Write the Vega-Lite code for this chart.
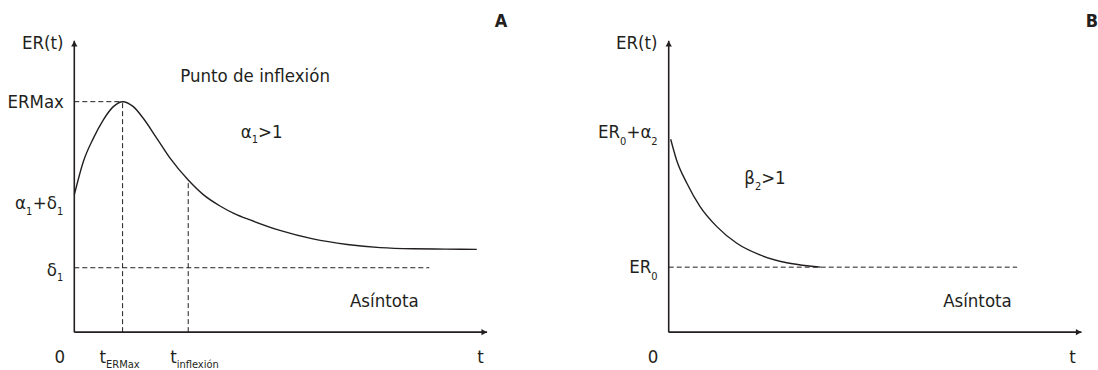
{
  "$schema": "https://vega.github.io/schema/vega-lite/v6.json",
  "usermeta": {"embedOptions": {"actions": false}},
  "padding": 0,
  "spacing": 0,
  "bounds": "flush",
  "config": {
    "view": {"stroke": null},
    "text": {"font": "'Liberation Sans Narrow', 'DejaVu Sans Condensed', 'Open Sans', sans-serif", "fontSize": 18.5, "color": "#231f20", "baseline": "middle"}
  },
  "datasets": {
    "curves": [
      {"panel": "A", "x": 0, "y": 4.71},
      {"panel": "A", "x": 0.218, "y": 5.85},
      {"panel": "A", "x": 0.46, "y": 6.65},
      {"panel": "A", "x": 0.7, "y": 7.28},
      {"panel": "A", "x": 0.945, "y": 7.74},
      {"panel": "A", "x": 1.17, "y": 7.91},
      {"panel": "A", "x": 1.43, "y": 7.74},
      {"panel": "A", "x": 1.67, "y": 7.34},
      {"panel": "A", "x": 2.0, "y": 6.65},
      {"panel": "A", "x": 2.32, "y": 5.97},
      {"panel": "A", "x": 2.76, "y": 5.22},
      {"panel": "A", "x": 3.125, "y": 4.72},
      {"panel": "A", "x": 3.53, "y": 4.33},
      {"panel": "A", "x": 3.89, "y": 4.06},
      {"panel": "A", "x": 4.26, "y": 3.85},
      {"panel": "A", "x": 4.98, "y": 3.49},
      {"panel": "A", "x": 5.78, "y": 3.2},
      {"panel": "A", "x": 6.61, "y": 3.01},
      {"panel": "A", "x": 7.41, "y": 2.9},
      {"panel": "A", "x": 8.205, "y": 2.86},
      {"panel": "A", "x": 9.0, "y": 2.85},
      {"panel": "A", "x": 9.75, "y": 2.84},
      {"panel": "B", "x": 0.048, "y": 6.62},
      {"panel": "B", "x": 0.19, "y": 5.91},
      {"panel": "B", "x": 0.44, "y": 5.11},
      {"panel": "B", "x": 0.76, "y": 4.31},
      {"panel": "B", "x": 1.16, "y": 3.63},
      {"panel": "B", "x": 1.65, "y": 3.05},
      {"panel": "B", "x": 2.21, "y": 2.65},
      {"panel": "B", "x": 2.86, "y": 2.38},
      {"panel": "B", "x": 3.585, "y": 2.245},
      {"panel": "B", "x": 3.68, "y": 2.23}
    ],
    "segments": [
      {"panel": "A", "kind": "axis", "x": 0, "y": 0, "x2": 10, "y2": 0},
      {"panel": "A", "kind": "axis", "x": 0, "y": 0, "x2": 0, "y2": 10},
      {"panel": "A", "kind": "dash", "x": 0, "y": 7.91, "x2": 1.17, "y2": 7.91},
      {"panel": "A", "kind": "dash", "x": 1.17, "y": 0, "x2": 1.17, "y2": 7.91},
      {"panel": "A", "kind": "dash", "x": 2.76, "y": 0, "x2": 2.76, "y2": 5.22},
      {"panel": "A", "kind": "dash", "x": 0, "y": 2.21, "x2": 8.6, "y2": 2.21},
      {"panel": "B", "kind": "axis", "x": 0, "y": 0, "x2": 10, "y2": 0},
      {"panel": "B", "kind": "axis", "x": 0, "y": 0, "x2": 0, "y2": 10},
      {"panel": "B", "kind": "dash", "x": 0, "y": 2.23, "x2": 8.44, "y2": 2.23}
    ],
    "arrows": [
      {"panel": "A", "x": 9.93, "y": 0, "shape": "triangle-right"},
      {"panel": "A", "x": 0, "y": 9.9, "shape": "triangle-up"},
      {"panel": "B", "x": 9.93, "y": 0, "shape": "triangle-right"},
      {"panel": "B", "x": 0, "y": 9.9, "shape": "triangle-up"}
    ],
    "texts": [
      {"panel": "A", "x": -0.26, "y": 9.92, "label": "ER(t)", "role": "mainR"},
      {"panel": "A", "x": -0.25, "y": 7.9, "label": "ERMax", "role": "mainR"},
      {"panel": "A", "x": -1.17, "y": 4.43, "label": "α", "role": "mainR"},
      {"panel": "A", "x": -1.17, "y": 4.12, "label": "1", "role": "sub"},
      {"panel": "A", "x": -0.42, "y": 4.43, "label": "+δ", "role": "mainR"},
      {"panel": "A", "x": -0.42, "y": 4.12, "label": "1", "role": "sub"},
      {"panel": "A", "x": -0.42, "y": 2.13, "label": "δ", "role": "mainR"},
      {"panel": "A", "x": -0.42, "y": 1.85, "label": "1", "role": "sub"},
      {"panel": "A", "x": -0.35, "y": -0.85, "label": "0", "role": "mainC"},
      {"panel": "A", "x": 0.77, "y": -0.85, "label": "t", "role": "mainR"},
      {"panel": "A", "x": 0.77, "y": -1.12, "label": "ERMax", "role": "sub"},
      {"panel": "A", "x": 2.48, "y": -0.85, "label": "t", "role": "mainR"},
      {"panel": "A", "x": 2.48, "y": -1.12, "label": "inflexión", "role": "sub"},
      {"panel": "A", "x": 9.84, "y": -0.85, "label": "t", "role": "mainC"},
      {"panel": "A", "x": 4.38, "y": 8.79, "label": "Punto de inflexión", "role": "mainC"},
      {"panel": "A", "x": 4.3, "y": 6.87, "label": "α", "role": "mainR"},
      {"panel": "A", "x": 4.3, "y": 6.59, "label": "1", "role": "sub"},
      {"panel": "A", "x": 4.45, "y": 6.87, "label": ">1", "role": "mainL"},
      {"panel": "A", "x": 7.51, "y": 1.07, "label": "Asíntota", "role": "mainC"},
      {"panel": "A", "x": 10.34, "y": 10.65, "label": "A", "role": "boldC"},
      {"panel": "B", "x": -0.27, "y": 9.92, "label": "ER(t)", "role": "mainR"},
      {"panel": "B", "x": -1.18, "y": 6.88, "label": "ER", "role": "mainR"},
      {"panel": "B", "x": -1.18, "y": 6.54, "label": "0", "role": "sub"},
      {"panel": "B", "x": -0.42, "y": 6.88, "label": "+α", "role": "mainR"},
      {"panel": "B", "x": -0.42, "y": 6.54, "label": "2", "role": "sub"},
      {"panel": "B", "x": -0.42, "y": 2.25, "label": "ER", "role": "mainR"},
      {"panel": "B", "x": -0.42, "y": 1.9, "label": "0", "role": "sub"},
      {"panel": "B", "x": 2.09, "y": 5.28, "label": "β", "role": "mainR"},
      {"panel": "B", "x": 2.09, "y": 4.99, "label": "2", "role": "sub"},
      {"panel": "B", "x": 2.24, "y": 5.28, "label": ">1", "role": "mainL"},
      {"panel": "B", "x": 7.48, "y": 1.07, "label": "Asíntota", "role": "mainC"},
      {"panel": "B", "x": -0.38, "y": -0.85, "label": "0", "role": "mainC"},
      {"panel": "B", "x": 9.78, "y": -0.85, "label": "t", "role": "mainC"},
      {"panel": "B", "x": 10.4, "y": 10.65, "label": "B", "role": "boldR"}
    ]
  },
  "hconcat": [
    {
      "width": 549,
      "height": 370,
      "encoding": {
        "x": {"field": "x", "type": "quantitative", "scale": {"domain": [-1.8, 11.5], "nice": false, "zero": false}, "axis": null},
        "y": {"field": "y", "type": "quantitative", "scale": {"domain": [-1.3, 11.4], "nice": false, "zero": false}, "axis": null}
      },
      "layer": [
        {"data": {"name": "segments"}, "transform": [{"filter": "datum.panel == 'A' && datum.kind == 'dash'"}],
         "mark": {"type": "rule", "color": "#231f20", "strokeWidth": 1, "strokeDash": [5, 3]},
         "encoding": {"x2": {"field": "x2"}, "y2": {"field": "y2"}}},
        {"data": {"name": "segments"}, "transform": [{"filter": "datum.panel == 'A' && datum.kind == 'axis'"}],
         "mark": {"type": "rule", "color": "#231f20", "strokeWidth": 1.6},
         "encoding": {"x2": {"field": "x2"}, "y2": {"field": "y2"}}},
        {"data": {"name": "arrows"}, "transform": [{"filter": "datum.panel == 'A'"}],
         "mark": {"type": "point", "filled": true, "color": "#231f20", "size": 40, "opacity": 1},
         "encoding": {"shape": {"field": "shape", "type": "nominal", "scale": null}}},
        {"data": {"name": "curves"}, "transform": [{"filter": "datum.panel == 'A'"}],
         "mark": {"type": "line", "color": "#231f20", "strokeWidth": 1.4, "interpolate": "monotone"},
         "encoding": {}},
        {"data": {"name": "texts"}, "transform": [{"filter": "datum.panel == 'A' && datum.role == 'mainR'"}],
         "mark": {"type": "text", "align": "right"}, "encoding": {"text": {"field": "label"}}},
        {"data": {"name": "texts"}, "transform": [{"filter": "datum.panel == 'A' && datum.role == 'mainL'"}],
         "mark": {"type": "text", "align": "left"}, "encoding": {"text": {"field": "label"}}},
        {"data": {"name": "texts"}, "transform": [{"filter": "datum.panel == 'A' && datum.role == 'mainC'"}],
         "mark": {"type": "text", "align": "center"}, "encoding": {"text": {"field": "label"}}},
        {"data": {"name": "texts"}, "transform": [{"filter": "datum.panel == 'A' && datum.role == 'sub'"}],
         "mark": {"type": "text", "align": "left", "fontSize": 11}, "encoding": {"text": {"field": "label"}}},
        {"data": {"name": "texts"}, "transform": [{"filter": "datum.panel == 'A' && datum.role == 'boldC'"}],
         "mark": {"type": "text", "align": "center", "fontWeight": "bold", "fontSize": 18}, "encoding": {"text": {"field": "label"}}}
      ]
    },
    {
      "width": 549,
      "height": 370,
      "encoding": {
        "x": {"field": "x", "type": "quantitative", "scale": {"domain": [-2.9, 10.4], "nice": false, "zero": false}, "axis": null},
        "y": {"field": "y", "type": "quantitative", "scale": {"domain": [-1.3, 11.4], "nice": false, "zero": false}, "axis": null}
      },
      "layer": [
        {"data": {"name": "segments"}, "transform": [{"filter": "datum.panel == 'B' && datum.kind == 'dash'"}],
         "mark": {"type": "rule", "color": "#231f20", "strokeWidth": 1, "strokeDash": [5, 3]},
         "encoding": {"x2": {"field": "x2"}, "y2": {"field": "y2"}}},
        {"data": {"name": "segments"}, "transform": [{"filter": "datum.panel == 'B' && datum.kind == 'axis'"}],
         "mark": {"type": "rule", "color": "#231f20", "strokeWidth": 1.6},
         "encoding": {"x2": {"field": "x2"}, "y2": {"field": "y2"}}},
        {"data": {"name": "arrows"}, "transform": [{"filter": "datum.panel == 'B'"}],
         "mark": {"type": "point", "filled": true, "color": "#231f20", "size": 40, "opacity": 1},
         "encoding": {"shape": {"field": "shape", "type": "nominal", "scale": null}}},
        {"data": {"name": "curves"}, "transform": [{"filter": "datum.panel == 'B'"}],
         "mark": {"type": "line", "color": "#231f20", "strokeWidth": 1.4, "interpolate": "monotone"},
         "encoding": {}},
        {"data": {"name": "texts"}, "transform": [{"filter": "datum.panel == 'B' && datum.role == 'mainR'"}],
         "mark": {"type": "text", "align": "right"}, "encoding": {"text": {"field": "label"}}},
        {"data": {"name": "texts"}, "transform": [{"filter": "datum.panel == 'B' && datum.role == 'mainL'"}],
         "mark": {"type": "text", "align": "left"}, "encoding": {"text": {"field": "label"}}},
        {"data": {"name": "texts"}, "transform": [{"filter": "datum.panel == 'B' && datum.role == 'mainC'"}],
         "mark": {"type": "text", "align": "center"}, "encoding": {"text": {"field": "label"}}},
        {"data": {"name": "texts"}, "transform": [{"filter": "datum.panel == 'B' && datum.role == 'sub'"}],
         "mark": {"type": "text", "align": "left", "fontSize": 11}, "encoding": {"text": {"field": "label"}}},
        {"data": {"name": "texts"}, "transform": [{"filter": "datum.panel == 'B' && datum.role == 'boldR'"}],
         "mark": {"type": "text", "align": "right", "fontWeight": "bold", "fontSize": 18}, "encoding": {"text": {"field": "label"}}}
      ]
    }
  ]
}
